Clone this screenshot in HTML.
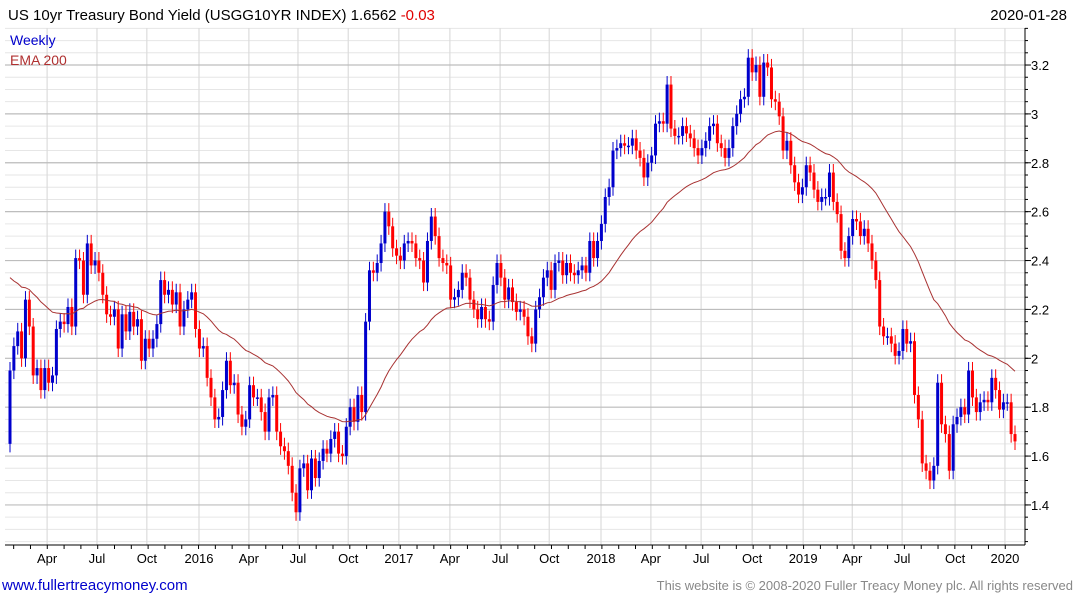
<!DOCTYPE html>
<html><head><meta charset="utf-8"><style>
body{margin:0;background:#fff;width:1075px;height:600px;overflow:hidden;font-family:"Liberation Sans",sans-serif}
svg{display:block}
</style></head><body>
<svg id="chart" width="1075" height="600">
<defs><clipPath id="plotclip"><rect x="5" y="28" width="1020" height="517"/></clipPath></defs>
<text x="8" y="20" font-size="15" fill="#000">US 10yr Treasury Bond Yield (USGG10YR INDEX) 1.6562 <tspan fill="#e00000">-0.03</tspan></text>
<text x="1067" y="20" font-size="15" fill="#000" text-anchor="end">2020-01-28</text>
<g id="grid"></g>
<g id="candles" clip-path="url(#plotclip)"></g>
<path id="ema" clip-path="url(#plotclip)" fill="none" stroke="#a83232" stroke-width="1"/>
<g id="axes"></g>
<text x="10" y="45" font-size="14" fill="#0000cc">Weekly</text>
<text x="10" y="65" font-size="14" fill="#b03030">EMA 200</text>
<text x="2" y="590" font-size="15" fill="#0000cc">www.fullertreacymoney.com</text>
<text x="1073" y="590" font-size="13" fill="#888" text-anchor="end">This website is © 2008-2020 Fuller Treacy Money plc. All rights reserved</text>
</svg>
<script>
const closes=[1.95,2.05,2.11,2.00,2.24,2.13,1.93,1.96,1.87,1.96,1.90,1.93,2.12,2.15,2.14,2.21,2.13,2.41,
2.40,2.26,2.47,2.38,2.40,2.35,2.26,2.18,2.17,2.20,2.04,2.18,2.11,2.19,2.13,2.16,1.99,2.08,2.04,2.08,2.14,2.32,2.26,2.28,2.22,2.27,2.13,2.20,2.24,2.27,2.12,2.04,2.05,1.92,1.84,1.75,1.76,1.87,1.99,1.89,1.90,1.77,1.72,1.75,1.89,1.84,
1.84,1.78,1.70,1.84,1.85,1.70,1.64,1.62,1.56,1.45,1.37,1.55,1.57,1.46,1.59,1.51,1.58,1.63,1.61,1.67,1.70,1.61,1.60,1.72,1.80,1.74,1.85,1.78,2.15,2.36,2.35,2.39,2.47,2.60,2.54,2.45,2.42,2.40,2.47,2.48,2.47,2.41,2.40,2.31,2.48,2.58,2.50,2.41,2.39,2.38,2.24,2.25,2.28,2.35,2.33,2.24,2.20,2.16,2.21,2.16,2.15,2.30,2.39,2.33,2.24,2.29,
2.23,2.19,2.20,2.17,2.09,2.06,2.20,2.25,2.33,2.36,2.28,2.39,2.40,2.34,2.39,2.35,2.34,2.36,2.38,2.35,2.48,2.41,2.48,2.55,2.66,2.70,2.85,2.86,2.88,2.87,2.87,2.90,2.85,2.82,2.74,2.80,2.83,2.96,2.97,2.96,3.12,2.94,2.91,2.91,2.95,2.92,2.90,2.86,2.83,2.86,2.89,2.95,2.96,2.88,2.86,2.82,2.86,2.95,3.00,3.06,3.07,3.23,3.17,3.20,3.07,3.21,3.19,3.06,3.05,2.99,2.85,2.89,2.79,2.72,
2.67,2.70,2.79,2.76,2.69,2.64,2.66,2.66,2.76,2.64,2.59,2.44,2.41,2.50,2.57,2.56,2.50,2.53,2.47,2.40,2.32,2.13,2.09,2.09,2.06,2.01,2.03,2.12,2.06,2.07,1.85,1.75,1.57,1.54,1.50,1.56,1.90,1.73,1.69,1.54,1.73,1.76,1.80,1.77,1.95,1.84,1.78,1.82,1.83,1.82,1.92,1.87,1.79,1.82,1.82,1.69,1.66];
const firstOpen=[1.65];
const emaSeed=[2.33];
const yTicks=[1.4,1.6,1.8,2,2.2,2.4,2.6,2.8,3,3.2];
const xTickLabels=["Apr","Jul","Oct","2016","Apr","Jul","Oct","2017","Apr","Jul","Oct","2018","Apr","Jul","Oct","2019","Apr","Jul","Oct","2020"];
const xTickWeeks=[9.6,22.5,35.4,48.9,61.8,74.5,87.5,100.6,113.8,126.8,139.5,152.9,165.8,178.8,192,205.2,217.9,230.8,244.5,257.4];

const NS="http://www.w3.org/2000/svg";
const L=5,R=1025,T=28,B=545;
const n=closes.length;
const xs=i=>10+i*(1005/(n-1));
const ys=v=>358.3-(v-2)*244.4;
function mk(tag,attrs,parent){const e=document.createElementNS(NS,tag);for(const k in attrs)e.setAttribute(k,attrs[k]);parent.appendChild(e);return e;}
const grid=document.getElementById('grid'),axes=document.getElementById('axes'),cg=document.getElementById('candles');
for(let k=0;k<=44;k++){const v=1.25+k*0.05;const y=ys(v);if(y<T||y>B)continue;
 const ln=mk('line',{x1:L,x2:R,y1:y,y2:y,stroke:'#e6e6e6','stroke-width':1},grid);
 
 
 const tk=mk('line',{x1:R,x2:R+3,y1:y,y2:y,stroke:'#000'},axes);
 
 }
xTickWeeks.forEach((w,i)=>{const x=xs(w);
 const ln=mk('line',{x1:x,x2:x,y1:T,y2:B,stroke:'#dcdcdc','stroke-width':1.2},grid);
 
 
 const t=mk('text',{x:x,y:563,'font-size':13,'text-anchor':'middle',fill:'#000'},axes);t.textContent=xTickLabels[i];
 
 });
for(let m=0;m<61;m++){const x=xs(m*4.348-3.4);if(x<L||x>R)continue;
 const tk=mk('line',{x1:x,x2:x,y1:B,y2:B+4,stroke:'#000'},axes);
 
 }
yTicks.forEach(v=>{const y=ys(v);
 const ln=mk('line',{x1:L,x2:R,y1:y,y2:y,stroke:'#bdbdbd','stroke-width':1.2},grid);
 
 
 const tk=mk('line',{x1:R,x2:R+6,y1:y,y2:y,stroke:'#000'},axes);
 
 
 const t=mk('text',{x:R+6,y:y+5,'font-size':13,fill:'#000'},axes);t.textContent=String(v);
 
 });
const ax=mk('line',{x1:R,x2:R,y1:T,y2:B,stroke:'#000'},axes);


const bx=mk('line',{x1:L,x2:R,y1:B,y2:B,stroke:'#000'},axes);


const pad=0.035;
for(let i=0;i<n;i++){
 const o=i===0?firstOpen[0]:closes[i-1],c=closes[i];
 const col=c>=o?'#0000cc':'#ff0000';
 const hi=Math.max(o,c)+pad,lo=Math.min(o,c)-pad;
 const x=xs(i);
 const w=mk('line',{x1:x,x2:x,y1:ys(hi),y2:ys(lo),stroke:col,'stroke-width':1},cg);
 
 
 const top=ys(Math.max(o,c)),h=Math.max(1.5,ys(Math.min(o,c))-top);
 const r=mk('rect',{x:x-1.5,y:top,width:3,height:h,fill:col},cg);
 
 }
const a=2/41;let e=emaSeed[0],d='';
for(let i=0;i<n;i++){e=i===0?e:e+a*(closes[i]-e);d+=(i?'L':'M')+xs(i).toFixed(1)+','+ys(e).toFixed(1);}
document.getElementById('ema').setAttribute('d',d);
</script>
</body></html>
